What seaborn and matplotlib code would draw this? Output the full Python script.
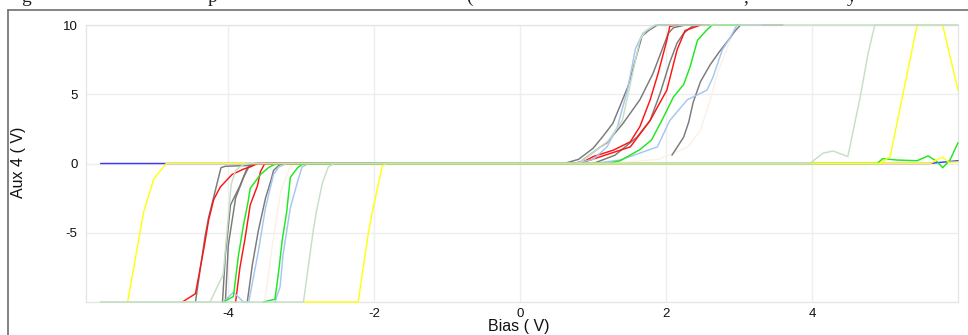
import matplotlib
matplotlib.use("Agg")
import matplotlib.pyplot as plt
import seaborn as sns
import pandas as pd
from matplotlib.lines import Line2D

sns.set_theme(style="white")
plt.rcParams["font.family"] = ["Liberation Sans", "DejaVu Sans"]

# ---- sweep traces: bias (V) and Aux 4 (V) ----
blue_bias = [-5.75, 5.6, 6.0]
blue_aux = [0, 0, 0.2]

peach_bias = [-3.5, -3.4, -3.28, -3.15, -3.05, 1.2, 1.9, 2.3, 2.47, 2.6, 2.7, 2.88, 2.97, 3.2]
peach_aux = [-10, -6.0, -2.0, -0.2, 0, 0, 0.3, 1.2, 2.4, 4.5, 6.5, 8.9, 10, 10]

gray_1_bias = [-4.45, -4.32, -4.27, -4.1, -4.04, -3.74, -3.6, 0.6, 0.8, 1.0, 1.14, 1.27, 1.38, 1.48, 1.58, 1.67, 1.76, 1.88, 2.5]
gray_1_aux = [-10, -5.3, -3.9, -0.3, -0.2, -0.15, 0, 0, 0.3, 1.1, 2.0, 2.9, 4.3, 5.6, 7.5, 9.2, 9.6, 10, 10]

gray_2_bias = [-4.08, -4.04, -3.97, -3.84, -3.74, -3.65, 0.75, 0.82, 1.1, 1.19, 1.41, 1.64, 1.82, 2.03, 2.1, 2.26, 2.6]
gray_2_aux = [-10, -6.6, -3.0, -1.6, -0.3, 0, 0, 0.1, 1.2, 1.5, 2.9, 4.6, 6.5, 9.4, 9.8, 10, 10]

gray_3_bias = [-4.04, -4.0, -3.9, -3.79, -3.72, -3.62, 1.0, 1.3, 1.6, 1.78, 1.92, 2.05, 2.15, 2.24, 2.33, 2.4]
gray_3_aux = [-10, -5.9, -2.5, -1.0, -0.25, 0, 0, 0.6, 1.9, 3.1, 5.1, 7.3, 8.7, 9.4, 9.8, 10]

gray_4_bias = [-3.74, -3.67, -3.59, -3.49, -3.42, -3.38, -3.3, -3.2, 0.0]
gray_4_aux = [-10, -7.3, -4.9, -2.5, -1.3, -0.5, -0.1, 0, 0]

gray_5_bias = [2.08, 2.24, 2.31, 2.37, 2.47, 2.6, 2.72, 2.88, 2.95, 3.02, 3.6]
gray_5_aux = [0.6, 1.9, 3.0, 4.4, 5.9, 7.1, 8.0, 9.1, 9.6, 10, 10]

red_1_bias = [-4.63, -4.45, -4.33, -4.27, -4.2, -4.11, -3.95, -3.79, -3.7, -3.6, 0.7, 0.87, 1.0, 1.28, 1.51, 1.64, 1.78, 1.89, 2.01, 2.05, 2.15]
red_1_aux = [-10, -9.4, -6.0, -4.1, -2.6, -1.7, -0.8, -0.4, -0.25, 0, 0, 0.13, 0.5, 0.97, 1.57, 2.66, 4.58, 6.5, 8.9, 9.9, 10]

red_2_bias = [-3.9, -3.84, -3.77, -3.7, -3.6, -3.56, -3.5, 0.8, 0.96, 1.51, 1.78, 2.01, 2.15, 2.26, 2.42, 2.47]
red_2_aux = [-10, -7.5, -5.4, -3.0, -1.6, -0.6, 0, 0, 0.25, 1.2, 3.1, 5.3, 8.2, 9.6, 9.9, 10]

lightblue_1_bias = [-4.07, -3.93, -3.79, -3.72, -3.59, -3.49, -3.38, -3.31, -3.2, 0.75, 1.0, 1.19, 1.33, 1.47, 1.58, 1.68, 1.85]
lightblue_1_aux = [-10, -9.3, -10, -10, -6.4, -3.2, -0.8, -0.25, 0, 0, 0.3, 1.2, 2.6, 5.3, 8.3, 9.4, 10]

lightblue_2_bias = [-3.36, -3.29, -3.25, -3.15, -3.05, -2.99, -2.9, 1.0, 1.37, 1.88, 2.05, 2.29, 2.56, 2.64, 2.77, 2.88, 2.97, 3.3]
lightblue_2_aux = [-10, -8.9, -6.6, -3.2, -1.3, -0.25, 0, 0, 0.25, 1.2, 3.1, 4.6, 5.3, 6.2, 8.2, 9.1, 10, 10]

green_1_bias = [-4.07, -3.93, -3.86, -3.79, -3.73, -3.7, -3.56, -3.45, -3.38, -3.3, 1.2, 1.37, 1.64, 1.8, 1.96, 2.1, 2.24, 2.33, 2.43, 2.55, 2.63, 3.0]
green_1_aux = [-10, -9.6, -6.6, -4.4, -2.8, -1.8, -0.8, -0.3, -0.1, 0, 0, 0.2, 1.0, 1.7, 3.3, 4.8, 5.7, 7.0, 8.9, 9.6, 10, 10]

green_2_bias = [-3.52, -3.36, -3.31, -3.26, -3.2, -3.15, -3.05, -2.97, 4.89, 4.97, 5.16, 5.44, 5.59, 5.71, 5.79, 5.89, 6.0]
green_2_aux = [-10, -9.8, -7.8, -5.5, -3.5, -1.0, -0.3, 0, 0, 0.35, 0.25, 0.2, 0.55, 0.15, -0.3, 0.25, 1.5]

yellow_1_bias = [-5.38, -5.16, -5.02, -4.85, 4.93, 5.07, 5.44, 5.79, 6.0]
yellow_1_aux = [-10, -3.5, -1.1, 0, 0, 0.5, 10, 10, 5.3]

yellow_2_bias = [-2.97, -2.22, -2.08, -2.03, -1.96, -1.89, -1.84, 5.62, 5.72, 5.79, 5.87, 6.0]
yellow_2_aux = [-10, -10, -5.0, -3.6, -1.9, -0.2, 0, 0, 0.3, 0.45, 0.1, 0.1]

palegreen_1_bias = [-5.75, -4.25, -4.07, -3.96, -3.9, -3.8, -3.7, 0.8, 1.2, 1.4, 1.5, 1.64, 1.72, 1.85, 6.0]
palegreen_1_aux = [-10, -10, -8.0, -1.5, -0.5, -0.1, 0, 0, 1.6, 3.1, 5.5, 8.9, 9.6, 10, 10]

palegreen_2_bias = [-5.75, -2.97, -2.84, -2.79, -2.71, -2.63, -2.55, 3.97, 4.15, 4.29, 4.49, 4.66, 4.77, 4.86, 6.0]
palegreen_2_aux = [-10, -10, -5.0, -3.4, -1.4, -0.25, 0, 0, 0.75, 0.9, 0.5, 4.8, 8.0, 10, 10]

x_ticks = [-4, -2, 0, 2, 4]
x_tick_labels = ["-4", "-2", "0", "2", "4"]
y_ticks = [-5, 0, 5, 10]
y_tick_labels = ["-5", "0", "5", "10"]

BLUE = "#3a3aff"
PEACH = "#fdf1e6"
GRAY = "#7a7a7a"
RED = "#ff1414"
LIGHTBLUE = "#a6c6ef"
GREEN = "#1ee81e"
YELLOW = "#ffff14"
PALEGREEN = "#c6dfc6"

# drawing order: first listed ends up underneath
traces = [
    ("blue", BLUE, blue_bias, blue_aux),
    ("peach", PEACH, peach_bias, peach_aux),
    ("gray 1", GRAY, gray_1_bias, gray_1_aux),
    ("gray 2", GRAY, gray_2_bias, gray_2_aux),
    ("gray 3", GRAY, gray_3_bias, gray_3_aux),
    ("gray 4", GRAY, gray_4_bias, gray_4_aux),
    ("gray 5", GRAY, gray_5_bias, gray_5_aux),
    ("red 1", RED, red_1_bias, red_1_aux),
    ("red 2", RED, red_2_bias, red_2_aux),
    ("light blue 1", LIGHTBLUE, lightblue_1_bias, lightblue_1_aux),
    ("light blue 2", LIGHTBLUE, lightblue_2_bias, lightblue_2_aux),
    ("green 1", GREEN, green_1_bias, green_1_aux),
    ("green 2", GREEN, green_2_bias, green_2_aux),
    ("yellow 1", YELLOW, yellow_1_bias, yellow_1_aux),
    ("yellow 2", YELLOW, yellow_2_bias, yellow_2_aux),
    ("pale green 1", PALEGREEN, palegreen_1_bias, palegreen_1_aux),
    ("pale green 2", PALEGREEN, palegreen_2_bias, palegreen_2_aux),
]

W, H = 968, 335
fig = plt.figure(figsize=(W / 100, H / 100), dpi=100)
fig.patch.set_facecolor("white")
ax = fig.add_axes([86 / W, (H - 302) / H, (958 - 86) / W, (302 - 25) / H])
ax.set_facecolor("white")

for i, (name, color, b, a) in enumerate(traces):
    df = pd.DataFrame({"bias": b, "aux": a})
    sns.lineplot(data=df, x="bias", y="aux", sort=False, estimator=None,
                 color=color, linewidth=1.05, ax=ax, zorder=3 + i * 0.01)
for line in ax.get_lines():
    line.set_clip_on(False)
    line.set_solid_joinstyle("round")

ax.set_xlim(-5.95, 6.0)
ax.set_ylim(-10, 10)
ax.set_xticks(x_ticks)
ax.set_xticklabels(x_tick_labels)
ax.set_yticks(y_ticks)
ax.set_yticklabels(y_tick_labels)
ax.tick_params(axis="both", length=0, labelsize=9.5, colors="#111111")
ax.tick_params(axis="x", pad=4)
ax.tick_params(axis="y", pad=6)
ax.grid(True, color="#eeeeee", linewidth=1.0)
ax.set_axisbelow(True)
for sp in ax.spines.values():
    sp.set_color("#e4e4e4")
    sp.set_linewidth(0.9)

ax.set_xlabel("")
ax.set_ylabel("")
fig.text(519 / W, 1 - 326 / H, "Bias ( V)", ha="center", va="center",
         fontsize=11.5, color="#111111")
fig.text(19 / W, 1 - 162 / H, "Aux 4 ( V)", ha="center", va="center",
         rotation=90, fontsize=11.5, color="#111111")

# panel frame
fig.add_artist(Line2D([8 / W, 1.0], [1 - 10 / H, 1 - 10 / H], color="#6e6e6e",
                      linewidth=1.2, transform=fig.transFigure))
fig.add_artist(Line2D([8 / W, 8 / W], [0, 1 - 10 / H], color="#6e6e6e",
                      linewidth=1.2, transform=fig.transFigure))

# caption line above the panel, running off the top edge
for ch, xp in [("g", 26), ("p", 212), ("(", 469), (",", 746), ("y", 852)]:
    fig.text(xp / W, 1 - 2.0 / H, ch, ha="center", va="baseline",
             fontsize=14, family=["Liberation Serif", "DejaVu Serif"], color="#222222")

fig.savefig("out.png", dpi=100, facecolor="white")
